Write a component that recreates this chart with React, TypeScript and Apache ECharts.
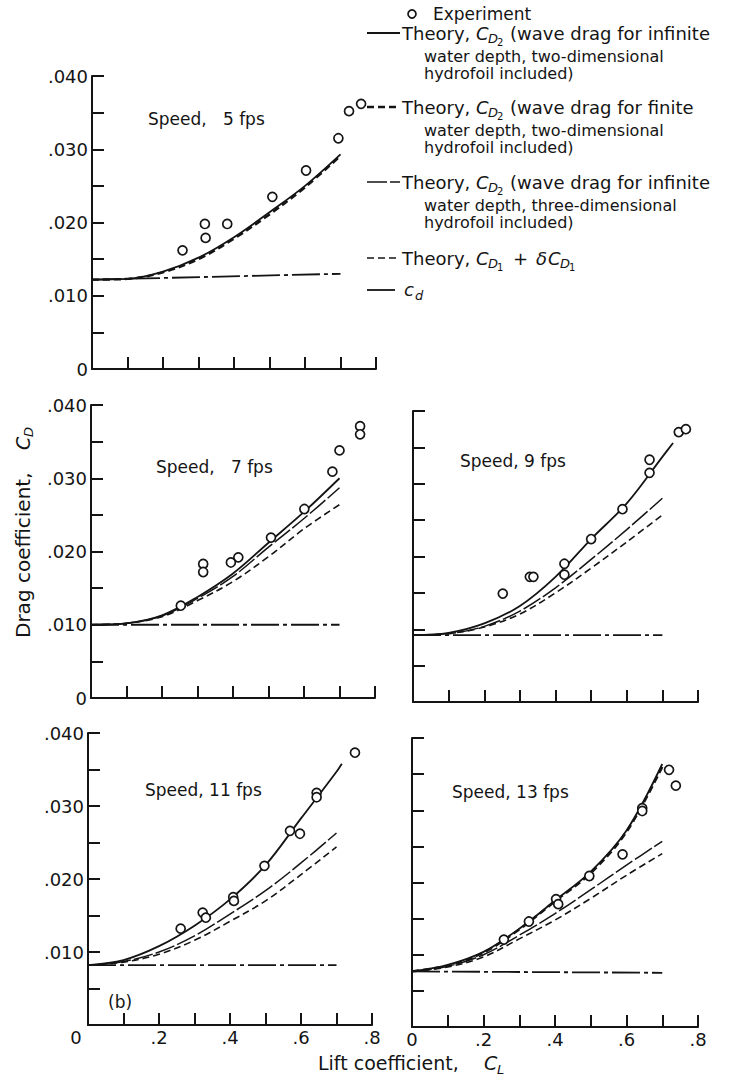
import React, { useEffect, useRef } from "react";
import * as echarts from "echarts";

// ---------- data ----------
const CL = [0, 0.1, 0.2, 0.3, 0.4, 0.5, 0.6, 0.7];
const CL_CD_ENDS = [0, 0.7];

// Speed 5 fps
const exp5CL = [0.255, 0.318, 0.32, 0.381, 0.508, 0.603, 0.694, 0.724, 0.758];
const exp5CD = [0.0162, 0.0198, 0.0179, 0.0198, 0.0235, 0.0271, 0.0315, 0.0352, 0.0362];
const inf2d5 = [0.0122, 0.0123, 0.0133, 0.0152, 0.018, 0.0214, 0.025, 0.0293];
const fin2d5 = [0.0122, 0.0123, 0.0132, 0.015, 0.0178, 0.0211, 0.0248, 0.0291];
const cd5 = [0.0122, 0.013];

// Speed 7 fps
const exp7CL = [0.253, 0.316, 0.316, 0.394, 0.415, 0.507, 0.601, 0.68, 0.7, 0.758, 0.758];
const exp7CD = [0.0126, 0.0183, 0.0172, 0.0185, 0.0192, 0.0219, 0.0258, 0.0309, 0.0338, 0.0371, 0.036];
const inf2d7 = [0.01, 0.0102, 0.0113, 0.0138, 0.017, 0.0212, 0.0254, 0.03];
const inf3d7 = [0.01, 0.0102, 0.0112, 0.0136, 0.0166, 0.0206, 0.0245, 0.0287];
const cd1d7 = [0.01, 0.0102, 0.0111, 0.0133, 0.0159, 0.0193, 0.0231, 0.0264];
const cd7 = [0.01, 0.01];

// Speed 9 fps
const exp9CL = [0.252, 0.328, 0.338, 0.425, 0.425, 0.5, 0.588, 0.664, 0.664, 0.746, 0.766];
const exp9CD = [0.0149, 0.0172, 0.0172, 0.019, 0.0175, 0.0224, 0.0265, 0.0333, 0.0315, 0.0371, 0.0375];
const CL9 = [0, 0.1, 0.2, 0.3, 0.4, 0.5, 0.6, 0.7, 0.73];
const inf2d9 = [0.0092, 0.0095, 0.0108, 0.0132, 0.0172, 0.0224, 0.0273, 0.0337, 0.0356];
const inf3d9 = [0.0092, 0.0094, 0.0104, 0.0125, 0.0157, 0.0196, 0.0237, 0.028];
const cd1d9 = [0.0092, 0.0094, 0.0103, 0.0121, 0.015, 0.0184, 0.022, 0.0257];
const cd9 = [0.0092, 0.0092];

// Speed 11 fps
const exp11CL = [0.261, 0.323, 0.332, 0.409, 0.411, 0.497, 0.569, 0.597, 0.644, 0.644, 0.752];
const exp11CD = [0.0132, 0.0154, 0.0147, 0.0175, 0.017, 0.0218, 0.0266, 0.0262, 0.0318, 0.0312, 0.0373];
const CL11 = [0, 0.1, 0.2, 0.3, 0.4, 0.5, 0.6, 0.7, 0.715];
const inf2d11 = [0.0082, 0.0089, 0.0108, 0.0136, 0.0172, 0.0219, 0.0283, 0.0347, 0.0358];
const inf3d11 = [0.0082, 0.0087, 0.01, 0.0122, 0.0152, 0.0184, 0.0222, 0.0263];
const cd1d11 = [0.0082, 0.0086, 0.0097, 0.0116, 0.0142, 0.017, 0.0206, 0.0244];
const cd11 = [0.0082, 0.0082];

// Speed 13 fps
const exp13CL = [0.257, 0.327, 0.403, 0.409, 0.496, 0.589, 0.644, 0.644, 0.719, 0.738];
const exp13CD = [0.0121, 0.0146, 0.0177, 0.017, 0.0209, 0.0239, 0.0303, 0.0299, 0.0356, 0.0334];
const inf2d13 = [0.0077, 0.0086, 0.0104, 0.0136, 0.0175, 0.0215, 0.0272, 0.0364];
const fin2d13 = [0.0077, 0.0085, 0.0103, 0.0135, 0.0174, 0.0213, 0.027, 0.036];
const inf3d13 = [0.0077, 0.0084, 0.01, 0.0127, 0.0157, 0.019, 0.0224, 0.0257];
const cd1d13 = [0.0077, 0.0083, 0.0097, 0.0122, 0.0148, 0.0178, 0.021, 0.024];
const cd13 = [0.0077, 0.0075];

const X_TICK_LABELS = ["0", ".2", ".4", ".6", ".8"];
const Y_TICK_LABELS = ["0", ".010", ".020", ".030", ".040"];

// ---------- styling ----------
const INK = "#141414";
const FONT = "DejaVu Sans";

const STYLE: Record<string, { width: number; type: any }> = {
  inf2d: { width: 1.8, type: "solid" },
  fin2d: { width: 2.4, type: [7, 4] },
  inf3d: { width: 1.5, type: [20, 3] },
  cd1: { width: 1.6, type: [7, 4] },
  cd: { width: 1.8, type: [28, 4, 4, 4] },
};

const GRIDS = [
  { left: 92, top: 76, width: 284, height: 293 },
  { left: 91, top: 405, width: 284, height: 293 },
  { left: 413, top: 411, width: 285, height: 291 },
  { left: 88, top: 733, width: 284, height: 292 },
  { left: 412, top: 738, width: 286, height: 289 },
];

type Curve = { xs: number[]; ys: number[]; style: string };
type Panel = {
  expCL: number[];
  expCD: number[];
  curves: Curve[];
  yLabels: "all" | "noZero" | "none";
  xLabels: "none" | "left" | "right";
};

const PANELS: Panel[] = [
  {
    expCL: exp5CL, expCD: exp5CD, yLabels: "all", xLabels: "none",
    curves: [
      { xs: CL, ys: inf2d5, style: "inf2d" },
      { xs: CL, ys: fin2d5, style: "fin2d" },
      { xs: CL_CD_ENDS, ys: cd5, style: "cd" },
    ],
  },
  {
    expCL: exp7CL, expCD: exp7CD, yLabels: "all", xLabels: "none",
    curves: [
      { xs: CL, ys: inf2d7, style: "inf2d" },
      { xs: CL, ys: inf3d7, style: "inf3d" },
      { xs: CL, ys: cd1d7, style: "cd1" },
      { xs: CL_CD_ENDS, ys: cd7, style: "cd" },
    ],
  },
  {
    expCL: exp9CL, expCD: exp9CD, yLabels: "none", xLabels: "none",
    curves: [
      { xs: CL9, ys: inf2d9, style: "inf2d" },
      { xs: CL, ys: inf3d9, style: "inf3d" },
      { xs: CL, ys: cd1d9, style: "cd1" },
      { xs: CL_CD_ENDS, ys: cd9, style: "cd" },
    ],
  },
  {
    expCL: exp11CL, expCD: exp11CD, yLabels: "noZero", xLabels: "left",
    curves: [
      { xs: CL11, ys: inf2d11, style: "inf2d" },
      { xs: CL, ys: inf3d11, style: "inf3d" },
      { xs: CL, ys: cd1d11, style: "cd1" },
      { xs: CL_CD_ENDS, ys: cd11, style: "cd" },
    ],
  },
  {
    expCL: exp13CL, expCD: exp13CD, yLabels: "none", xLabels: "right",
    curves: [
      { xs: CL, ys: inf2d13, style: "inf2d" },
      { xs: CL, ys: fin2d13, style: "fin2d" },
      { xs: CL, ys: inf3d13, style: "inf3d" },
      { xs: CL, ys: cd1d13, style: "cd1" },
      { xs: CL_CD_ENDS, ys: cd13, style: "cd" },
    ],
  },
];

const TITLES = [
  { x: 148, y: 119, text: "Speed,   5 fps" },
  { x: 156, y: 467, text: "Speed,   7 fps" },
  { x: 460, y: 461, text: "Speed, 9 fps" },
  { x: 145, y: 790, text: "Speed, 11 fps" },
  { x: 452, y: 792, text: "Speed, 13 fps" },
];

// ---------- helpers ----------
function txt(x: number, y: number, text: string, size = 17, extra: any = {}) {
  return {
    type: "text",
    x,
    y,
    silent: true,
    style: {
      text,
      fontSize: size,
      fontFamily: FONT,
      fill: INK,
      align: "left",
      verticalAlign: "middle",
      textAlign: "left",
      textVerticalAlign: "middle",
      ...extra,
    },
  };
}

function dashOf(style: string) {
  const t = STYLE[style].type;
  return Array.isArray(t) ? t : null;
}

function legendLine(y: number, style: string, x1 = 367, x2 = 400) {
  return {
    type: "line",
    silent: true,
    shape: { x1, y1: y, x2, y2: y },
    style: { stroke: INK, lineWidth: STYLE[style].width, lineDash: dashOf(style) },
  };
}

function cdSymbol(x: number, y: number, subsub: string) {
  return [
    txt(x, y, "C", 18, { fontStyle: "italic" }),
    txt(x + 12, y + 5, "D", 13, { fontStyle: "italic" }),
    txt(x + 21, y + 9, subsub, 10),
  ];
}

function yFmt(mode: string) {
  return (v: number) => {
    const k = Math.round(v * 1000);
    if (k % 10 !== 0) return "";
    const idx = k / 10;
    if (idx === 0 && mode === "noZero") return "";
    return Y_TICK_LABELS[idx] ?? "";
  };
}

function xFmt(mode: string) {
  return (v: number) => {
    const k = Math.round(v * 10);
    if (k % 2 !== 0) return "";
    const lab = X_TICK_LABELS[k / 2] ?? "";
    if (k === 0 && mode === "left") return "{z|" + lab + "}";
    return lab;
  };
}

export default function App() {
  const ref = useRef<HTMLDivElement>(null);

  useEffect(() => {
    if (!ref.current) return;
    const chart = echarts.init(ref.current, null, { renderer: "svg" });

    const grid = GRIDS.map((g) => ({ ...g, containLabel: false, outerBoundsMode: "none" }));

    const axisLine = { show: true, lineStyle: { color: INK, width: 2 } };
    const axisTick = { show: true, inside: true, length: 12, lineStyle: { color: INK, width: 2 } };

    const xAxis = PANELS.map((p, i) => ({
      type: "value",
      gridIndex: i,
      min: 0,
      max: 0.8,
      interval: 0.1,
      axisLine,
      axisTick,
      splitLine: { show: false },
      axisLabel: {
        show: p.xLabels !== "none",
        formatter: xFmt(p.xLabels),
        fontSize: 18,
        fontFamily: FONT,
        color: INK,
        margin: 3,
        showMinLabel: true,
        showMaxLabel: true,
        rich: { z: { fontSize: 18, fontFamily: FONT, color: INK, padding: [0, 24, 0, 0] } },
      },
    }));

    const yAxis = PANELS.map((p, i) => ({
      type: "value",
      gridIndex: i,
      min: 0,
      max: 0.04,
      interval: 0.005,
      axisLine,
      axisTick,
      splitLine: { show: false },
      axisLabel: {
        show: p.yLabels !== "none",
        formatter: yFmt(p.yLabels),
        fontSize: 18,
        fontFamily: FONT,
        color: INK,
        margin: 4,
        showMinLabel: true,
        showMaxLabel: true,
      },
    }));

    const series: any[] = [];
    PANELS.forEach((p, i) => {
      p.curves.forEach((c) => {
        series.push({
          type: "line",
          xAxisIndex: i,
          yAxisIndex: i,
          data: c.xs.map((x, j) => [x, c.ys[j]]),
          symbol: "none",
          smooth: c.xs.length > 2 ? 0.35 : false,
          silent: true,
          z: 3,
          lineStyle: { color: INK, width: STYLE[c.style].width, type: STYLE[c.style].type },
        });
      });
      series.push({
        type: "scatter",
        xAxisIndex: i,
        yAxisIndex: i,
        data: p.expCL.map((x, j) => [x, p.expCD[j]]),
        symbol: "circle",
        symbolSize: 9,
        silent: true,
        z: 4,
        itemStyle: { color: "#ffffff", borderColor: INK, borderWidth: 1.7, opacity: 1 },
      });
    });

    const graphic: any[] = [];
    TITLES.forEach((t) => graphic.push(txt(t.x, t.y, t.text, 17)));
    graphic.push(txt(108, 1002, "(b)", 17));

    // legend
    graphic.push({
      type: "circle",
      silent: true,
      shape: { cx: 412, cy: 14, r: 4 },
      style: { fill: "#fff", stroke: INK, lineWidth: 1.7 },
    });
    graphic.push(txt(433, 14, "Experiment", 17));

    const entries = [
      { y: 33, style: "inf2d", rest: "(wave drag for infinite", l2: "water depth, two-dimensional", l3: "hydrofoil included)" },
      { y: 107, style: "fin2d", rest: "(wave drag for finite", l2: "water depth, two-dimensional", l3: "hydrofoil included)" },
      { y: 182, style: "inf3d", rest: "(wave drag for infinite", l2: "water depth, three-dimensional", l3: "hydrofoil included)" },
    ];
    entries.forEach((e) => {
      graphic.push(legendLine(e.y, e.style));
      graphic.push(txt(402, e.y, "Theory,", 18));
      cdSymbol(476, e.y, "2").forEach((g) => graphic.push(g));
      graphic.push(txt(510, e.y, e.rest, 18));
      graphic.push(txt(424, e.y + 23, e.l2, 16));
      graphic.push(txt(424, e.y + 40, e.l3, 16));
    });

    graphic.push(legendLine(258, "cd1"));
    graphic.push(txt(402, 258, "Theory,", 18));
    cdSymbol(476, 258, "1").forEach((g) => graphic.push(g));
    graphic.push(txt(513, 258, "+", 18));
    graphic.push(txt(536, 258, "δ", 18, { fontStyle: "italic" }));
    cdSymbol(548, 258, "1").forEach((g) => graphic.push(g));

    graphic.push(legendLine(290, "cd", 367, 396));
    graphic.push(txt(404, 289, "c", 18, { fontStyle: "italic" }));
    graphic.push(txt(415, 295, "d", 13, { fontStyle: "italic" }));

    // y axis name (rotated, reads bottom to top)
    graphic.push({
      type: "group",
      x: 23,
      y: 638,
      rotation: Math.PI / 2,
      silent: true,
      children: [
        txt(0, 0, "Drag coefficient,", 20),
        txt(188, 0, "C", 19, { fontStyle: "italic" }),
        txt(201, 5, "D", 13, { fontStyle: "italic" }),
      ],
    });

    // x axis name
    graphic.push(txt(318, 1063, "Lift coefficient,", 19));
    graphic.push(txt(484, 1063, "C", 19, { fontStyle: "italic" }));
    graphic.push(txt(497, 1069, "L", 13, { fontStyle: "italic" }));

    chart.setOption({
      animation: false,
      backgroundColor: "#ffffff",
      textStyle: { fontFamily: FONT, color: INK },
      grid,
      xAxis,
      yAxis,
      series,
      graphic,
    });

    return () => chart.dispose();
  }, []);

  return (
    <div
      ref={ref}
      style={{ position: "absolute", left: 0, top: 0, width: 733, height: 1078, background: "#fff" }}
    />
  );
}
